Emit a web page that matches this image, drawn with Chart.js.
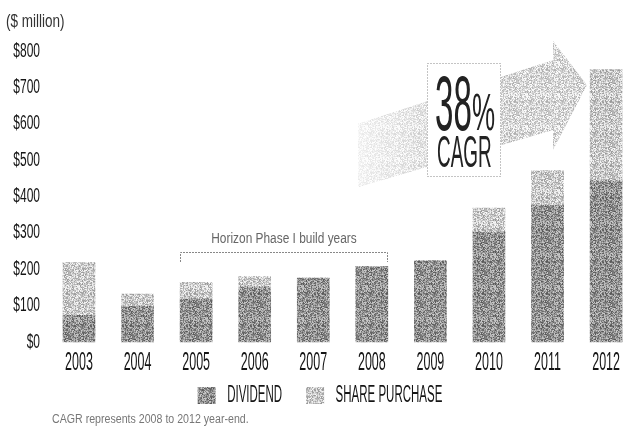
<!DOCTYPE html>
<html>
<head>
<meta charset="utf-8">
<script src="https://cdn.jsdelivr.net/npm/chart.js@4/dist/chart.umd.min.js"></script>
<style>
  html, body { margin: 0; padding: 0; background: #fff; }
  canvas { display: block; }
</style>
</head>
<body>
<canvas id="payout" width="626" height="430"></canvas>
<script>
// Shareholder payouts, $ million
const years = ['2003', '2004', '2005', '2006', '2007', '2008', '2009', '2010', '2011', '2012'];
const dividend = [73, 98, 119, 152, 176, 207, 223, 302, 375, 443];
const sharePurchase = [145, 34, 45, 28, 0, 0, 0, 66, 96, 306];
const yMax = 800;
const yStep = 100;

const FONT = '"Liberation Sans", Arial, sans-serif';
const BAR = 32;
const INK = '#151515';

const canvas = document.getElementById('payout');
const ctx = canvas.getContext('2d');

// condensed type: squeeze glyphs horizontally around their anchor.
// axis/legend text picks its squeeze from the font size, notes set it directly
const squeezeBySize = { 20: 0.6, 25: 0.5, 23: 0.5 };
ctx.squeeze = null;
const squeezeOf = c => c.squeeze || squeezeBySize[parseInt(c.font.replace(/^\D+/, ''))] || 0.5;
function squeezed(raw) {
  return function (text, x, y) {
    const k = squeezeOf(this);
    if (k === 1) return raw(text, x, y);
    this.save();
    this.translate(x, y);
    this.scale(k, 1);
    raw(text, 0, 0);
    this.restore();
  };
}
ctx.fillText = squeezed(ctx.fillText.bind(ctx));
ctx.strokeText = squeezed(ctx.strokeText.bind(ctx));
const rawMeasure = ctx.measureText.bind(ctx);
ctx.measureText = function (text) {
  const m = rawMeasure(text);
  const k = squeezeOf(this);
  return {
    width: m.width * k,
    actualBoundingBoxAscent: m.actualBoundingBoxAscent,
    actualBoundingBoxDescent: m.actualBoundingBoxDescent,
    actualBoundingBoxLeft: m.actualBoundingBoxLeft * k,
    actualBoundingBoxRight: m.actualBoundingBoxRight * k
  };
};

// grainy halftone fill, fixed hash so it is the same every time
function stipple(base, spread) {
  const n = 32;
  const c = document.createElement('canvas');
  c.width = c.height = n;
  const g = c.getContext('2d');
  const img = g.createImageData(n, n);
  for (let y = 0; y < n; y++) {
    for (let x = 0; x < n; x++) {
      let h = Math.imul(x * 374761393 + y * 668265263, 1274126177) >>> 0;
      h = Math.imul(h ^ (h >>> 13), 1274126177) >>> 0;
      h = (h ^ (h >>> 16)) >>> 0;
      const t = (h & 255) / 255;
      const v = Math.max(0, Math.min(255, Math.round(base + (t - 0.5) * spread)));
      const i = (y * n + x) * 4;
      img.data[i] = img.data[i + 1] = img.data[i + 2] = v;
      img.data[i + 3] = 255;
    }
  }
  g.putImageData(img, 0, 0);
  return g.createPattern(c, 'repeat');
}

const darkFill = stipple(145, 120);
const lightFill = stipple(200, 100);
const arrowFill = stipple(214, 85);

const notes = {
  id: 'notes',
  afterLayout(chart) {
    // legend sits just under the year labels, a little right of centre
    const lg = chart.legend;
    lg.top = chart.chartArea.bottom + 18;
    lg.left += 12;
    lg.right += 12;
  },
  beforeDatasetsDraw(chart) {
    const c = chart.ctx;
    // growth arrow
    c.save();
    c.beginPath();
    c.moveTo(358, 124);
    c.lineTo(553, 60);
    c.lineTo(553, 41);
    c.lineTo(587, 85);
    c.lineTo(553, 150);
    c.lineTo(553, 130);
    c.lineTo(358, 187);
    c.closePath();
    c.fillStyle = arrowFill;
    c.fill();
    const fade = c.createLinearGradient(358, 0, 480, 0);
    fade.addColorStop(0, 'rgba(255,255,255,0.75)');
    fade.addColorStop(1, 'rgba(255,255,255,0)');
    c.fillStyle = fade;
    c.fill();
    c.restore();
  },
  afterDatasetsDraw(chart) {
    const c = chart.ctx;
    const x = chart.scales.x;
    c.save();

    // CAGR box
    c.fillStyle = '#fff';
    c.fillRect(427, 63, 74, 114);
    c.setLineDash([1, 2]);
    c.strokeStyle = '#888';
    c.lineWidth = 1;
    c.strokeRect(427.5, 63.5, 73, 113);
    c.setLineDash([]);

    c.fillStyle = '#222';
    c.textAlign = 'left';
    c.textBaseline = 'alphabetic';
    c.font = '77px ' + FONT;
    c.squeeze = 0.43;
    c.fillText('38', 435, 130);
    c.font = '52px ' + FONT;
    c.squeeze = 0.5;
    c.fillText('%', 472, 130);
    c.font = '44px ' + FONT;
    c.squeeze = 0.43;
    c.fillText('CAGR', 437, 167);

    // build-years bracket over 2005-2008
    const xl = Math.round(x.getPixelForValue(2) - BAR / 2) + 0.5;
    const xr = Math.round(x.getPixelForValue(5) + BAR / 2) - 0.5;
    c.strokeStyle = '#888';
    c.setLineDash([2, 1]);
    c.beginPath();
    c.moveTo(xl, 262);
    c.lineTo(xl, 252.5);
    c.lineTo(xr, 252.5);
    c.lineTo(xr, 262);
    c.stroke();
    c.setLineDash([]);

    c.squeeze = 0.85;
    c.font = '14px ' + FONT;
    c.fillStyle = '#666';
    c.textAlign = 'center';
    c.textBaseline = 'middle';
    c.fillText('Horizon Phase I build years', (xl + xr) / 2, 239);

    // unit label and footnote
    c.squeeze = 0.75;
    c.font = '18px ' + FONT;
    c.fillStyle = '#333';
    c.textAlign = 'left';
    c.fillText('($ million)', 6, 22);

    c.squeeze = 0.85;
    c.font = '12.5px ' + FONT;
    c.fillStyle = '#777';
    c.fillText('CAGR represents 2008 to 2012 year-end.', 52, 420);

    c.squeeze = null;
    c.restore();
  }
};

new Chart(ctx, {
  type: 'bar',
  data: {
    labels: years,
    datasets: [
      {
        label: 'DIVIDEND',
        data: dividend,
        backgroundColor: darkFill,
        borderWidth: 0,
        barThickness: BAR,
        clip: false
      },
      {
        label: 'SHARE PURCHASE',
        data: sharePurchase,
        backgroundColor: lightFill,
        borderWidth: 0,
        barThickness: BAR,
        clip: false
      }
    ]
  },
  options: {
    responsive: false,
    animation: false,
    layout: { padding: { left: 7, right: 17, top: 48, bottom: 18 } },
    scales: {
      x: {
        stacked: true,
        offset: false,
        grid: { display: false, drawTicks: false },
        border: { display: false },
        ticks: { color: INK, padding: 6, font: { family: FONT, size: 25 } },
        afterFit(s) { s.height = 30; }
      },
      y: {
        stacked: true,
        min: 0,
        max: yMax,
        grid: { display: false, drawTicks: false },
        border: { display: false },
        ticks: {
          stepSize: yStep,
          color: INK,
          padding: 39,
          font: { family: FONT, size: 20 },
          callback: v => '$' + v
        },
        afterFit(s) { s.width = 72; }
      }
    },
    plugins: {
      legend: {
        position: 'bottom',
        maxHeight: 40,
        labels: {
          boxWidth: 18,
          boxHeight: 17,
          padding: 24,
          color: INK,
          font: { family: FONT, size: 23 }
        }
      },
      tooltip: { enabled: false }
    }
  },
  plugins: [notes]
});
</script>
</body>
</html>
